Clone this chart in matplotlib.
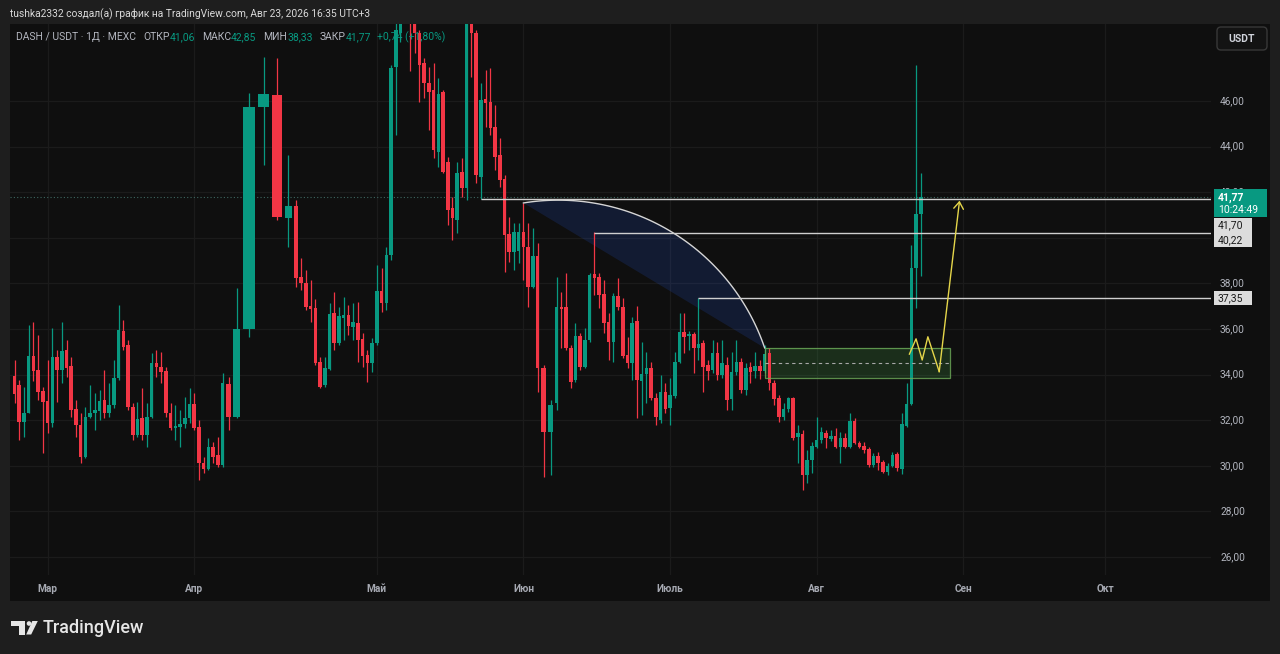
import numpy as np
import pandas as pd
import matplotlib
matplotlib.use("Agg")
import matplotlib.pyplot as plt
from matplotlib.patches import Rectangle, Polygon, FancyBboxPatch, Circle
from matplotlib.transforms import IdentityTransform

plt.rcParams['font.family'] = ['Roboto', 'DejaVu Sans']

# DASH/USDT daily candles, MEXC, first bar 2026-02-22
start_date = "2026-02-22"
opens = [
    33.94, 33.54, 31.92, 32.32, 34.82, 34.20, 33.28, 32.84, 31.88, 34.77,
    34.20, 35.08, 34.38, 32.49, 31.79, 30.39, 32.14, 32.32, 32.40, 32.89,
    32.32, 32.67, 33.85, 35.91, 35.30, 32.58, 31.35, 32.10, 31.35, 32.14,
    34.50, 34.33, 34.16, 32.32, 31.66, 31.70, 31.83, 32.10, 32.71, 31.70,
    30.12, 29.86, 30.82, 30.47, 30.03, 33.59, 32.14, 36.00, 45.74, 46.26,
    40.87, 41.40, 38.28, 38.00, 37.00, 36.92, 34.55, 33.54, 34.25, 36.70,
    35.39, 36.48, 36.61, 36.09, 36.26, 35.56, 34.86, 34.50, 35.39, 37.67,
    37.14, 39.25, 47.49, 49.00, 50.50, 51.50, 49.80, 48.98, 47.67, 46.79,
    46.48, 43.76, 46.39, 43.32, 41.31, 40.78, 42.89, 42.18, 49.42, 48.98,
    42.67, 46.09, 45.96, 44.86, 43.63, 42.58, 40.17, 39.38, 39.42, 40.25,
    39.60, 37.84, 39.20, 34.29, 31.48, 32.75, 36.96, 36.96, 35.17, 33.76,
    35.69, 34.33, 35.52, 38.41, 38.28, 37.54, 36.30, 35.43, 37.45, 36.96,
    34.86, 34.50, 36.35, 33.72, 34.03, 34.29, 32.97, 32.00, 33.24, 32.54,
    33.06, 34.55, 35.87, 35.69, 35.78, 35.17, 35.39, 34.42, 34.20, 34.95,
    33.98, 34.42, 32.93, 34.11, 34.55, 33.33, 34.33, 34.16, 34.38, 34.16,
    34.95, 33.63, 32.97, 32.14, 32.49, 32.97, 31.26, 31.39, 29.60, 30.25,
    30.82, 31.13, 31.44, 31.17, 31.30, 30.82, 31.22, 30.82, 31.96, 31.00,
    30.87, 30.74, 30.03, 30.43, 30.16, 29.73, 29.99, 30.52, 29.86, 31.75,
    32.71, 38.68, 41.06]
highs = [
    34.64, 33.76, 33.46, 36.18, 36.30, 35.74, 33.46, 34.64, 36.04, 35.08,
    36.30, 35.52, 34.77, 32.89, 32.32, 32.58, 33.54, 33.20, 33.33, 34.20,
    33.63, 34.64, 37.05, 36.40, 35.52, 32.75, 32.80, 33.41, 32.75, 34.95,
    35.08, 35.00, 34.33, 32.75, 32.67, 32.45, 33.02, 33.41, 33.20, 32.00,
    30.39, 31.22, 31.04, 31.26, 34.07, 33.90, 37.80, 46.35, 47.93, 47.89,
    43.63, 41.66, 39.10, 38.60, 38.15, 37.32, 34.77, 34.77, 37.14, 37.62,
    36.96, 37.40, 37.05, 37.14, 37.18, 35.82, 35.08, 35.60, 38.80, 38.68,
    39.60, 47.58, 50.00, 50.50, 52.00, 52.00, 50.50, 49.11, 47.89, 47.49,
    47.67, 47.00, 46.48, 43.54, 41.79, 43.32, 43.50, 50.50, 50.00, 49.10,
    46.79, 47.36, 47.45, 45.82, 44.38, 42.75, 40.91, 40.65, 40.65, 41.53,
    40.65, 40.43, 39.77, 34.42, 32.89, 38.28, 37.62, 38.46, 35.30, 36.26,
    35.82, 36.04, 38.46, 40.25, 38.46, 38.15, 36.70, 37.58, 38.24, 37.36,
    35.65, 36.53, 37.00, 35.43, 34.99, 34.55, 33.20, 33.98, 33.63, 33.85,
    34.99, 36.70, 36.70, 35.90, 35.87, 37.36, 35.52, 34.64, 35.52, 35.43,
    35.52, 34.77, 34.99, 35.52, 34.73, 34.51, 34.55, 34.99, 34.64, 35.30,
    35.17, 33.76, 33.11, 32.75, 33.02, 33.02, 31.79, 31.57, 30.69, 31.04,
    32.14, 31.70, 31.57, 31.57, 31.66, 31.48, 31.44, 32.32, 32.10, 31.10,
    31.04, 30.82, 30.56, 30.60, 30.25, 30.12, 30.60, 30.60, 32.32, 33.63,
    39.68, 47.58, 42.85]
lows = [
    32.75, 31.13, 31.26, 32.30, 33.70, 32.90, 30.56, 31.44, 31.70, 32.80,
    33.63, 33.90, 32.14, 31.26, 30.12, 30.34, 32.10, 31.57, 32.00, 32.10,
    32.14, 32.54, 33.76, 35.08, 32.45, 31.13, 31.26, 31.13, 30.82, 32.10,
    33.90, 33.63, 32.14, 31.57, 31.13, 30.82, 31.66, 31.88, 31.57, 29.38,
    29.68, 29.82, 30.12, 29.95, 29.95, 31.57, 32.10, 35.65, 43.19, 40.78,
    39.60, 37.84, 37.70, 36.83, 36.30, 34.42, 33.41, 33.46, 34.20, 35.08,
    35.30, 35.52, 35.74, 35.52, 34.55, 34.33, 33.68, 34.11, 35.30, 36.75,
    36.83, 39.03, 44.51, 48.60, 50.00, 47.30, 48.10, 45.96, 46.13, 44.73,
    43.50, 43.10, 42.84, 40.56, 39.90, 40.21, 41.79, 41.66, 47.05, 42.40,
    41.70, 44.86, 44.51, 42.97, 42.23, 38.50, 38.94, 38.59, 38.90, 38.15,
    36.96, 37.80, 33.24, 29.51, 29.60, 32.45, 35.17, 35.08, 33.41, 33.68,
    34.20, 34.29, 35.43, 37.49, 36.92, 35.82, 34.64, 34.55, 36.83, 34.73,
    34.29, 33.76, 32.10, 32.23, 32.75, 32.89, 31.79, 31.88, 32.32, 31.79,
    32.97, 34.50, 34.95, 35.08, 34.07, 34.64, 33.24, 33.76, 34.07, 33.76,
    33.85, 32.45, 32.45, 33.98, 33.20, 33.11, 33.63, 33.85, 33.80, 34.07,
    33.33, 32.67, 31.92, 32.00, 32.36, 31.13, 30.12, 28.94, 29.25, 29.68,
    30.78, 31.00, 30.78, 31.10, 30.78, 30.12, 30.78, 30.78, 30.95, 30.78,
    30.56, 29.95, 29.95, 29.82, 29.68, 29.60, 29.95, 29.77, 29.64, 31.70,
    32.67, 36.92, 38.33]
closes = [
    33.15, 31.92, 32.32, 34.82, 34.16, 33.24, 32.80, 31.88, 34.77, 34.20,
    35.04, 34.29, 32.45, 31.79, 30.39, 32.14, 32.32, 32.45, 32.84, 32.32,
    32.67, 33.85, 35.96, 35.21, 32.58, 31.35, 32.05, 31.35, 32.14, 34.50,
    34.33, 34.11, 32.32, 31.66, 31.75, 31.83, 32.10, 32.71, 31.66, 30.12,
    29.86, 30.82, 30.39, 30.03, 33.63, 32.14, 36.00, 45.74, 46.30, 40.91,
    41.40, 38.24, 38.00, 36.96, 36.88, 34.50, 33.46, 34.29, 36.66, 35.39,
    36.57, 36.61, 36.13, 36.30, 35.52, 34.82, 34.50, 35.39, 37.67, 37.14,
    39.25, 47.45, 49.11, 49.60, 51.50, 50.00, 49.00, 47.58, 46.79, 46.39,
    43.85, 46.31, 42.89, 41.22, 40.87, 42.84, 42.18, 49.80, 48.98, 42.75,
    46.04, 45.91, 44.82, 43.54, 42.54, 40.12, 39.38, 40.25, 40.25, 39.60,
    37.84, 39.20, 34.29, 31.48, 32.67, 36.96, 36.90, 35.17, 33.68, 35.69,
    34.33, 35.52, 38.37, 38.24, 37.49, 36.26, 35.43, 37.45, 36.96, 34.82,
    34.50, 36.26, 33.76, 34.03, 34.29, 32.97, 32.14, 33.24, 32.49, 33.11,
    34.55, 35.87, 35.65, 35.78, 35.17, 35.34, 34.33, 34.16, 34.95, 33.98,
    34.50, 32.89, 34.11, 34.55, 33.33, 34.29, 34.11, 34.38, 34.16, 34.90,
    33.63, 32.93, 32.14, 32.49, 32.97, 31.22, 31.44, 29.60, 30.25, 30.87,
    31.13, 31.48, 31.22, 31.30, 30.82, 31.22, 30.82, 31.96, 31.00, 30.82,
    30.69, 30.03, 30.43, 30.12, 29.73, 29.99, 30.47, 29.90, 31.83, 32.71,
    38.68, 41.03, 41.77]

# a few bars are drawn stretched on the screenshot (bar index: width in slots)
wide_bars = {45: 1.5, 46: 2.0, 47: 3.2, 48: 3.0, 49: 2.7, 50: 2.0, 51: 1.2,
             103: 1.5, 104: 1.5}

ru_months = {3: "Мар", 4: "Апр", 5: "Май", 6: "Июн", 7: "Июль", 8: "Авг",
             9: "Сен", 10: "Окт"}
future_months = ["2026-09-01", "2026-10-01"]
price_ticks = [26, 28, 30, 32, 34, 36, 38, 40, 42, 44, 46]

# drawings
ray_bars = [90, 113, 135]
ray_prices = [41.70, 40.22, 37.35]
arc_bars = [99, 129.4, 149]
arc_prices = [41.53, 40.25, 35.17]
zone_bar = 149
zone_ahead = 6.2
zone_top, zone_bottom = 35.18, 33.84
path_ahead = [-2.4, -1.0, 0.3, 1.5, 3.9, 8.2]
path_prices = [34.90, 35.57, 34.64, 35.66, 34.13, 41.63]
countdown = "10:24:49"
title = "tushka2332 создал(а) график на TradingView.com, Авг 23, 2026 16:35 UTC+3"

UP, DOWN = "#089981", "#f23645"
BG, FRAME, GRID = "#0f0f0f", "#1e1e1e", "#1b1b1b"
AXTXT = "#b2b5be"
YEL = "#e5d64a"

W, H = 1280, 654
PX0, DX = 14.5, 4.73   # pixel of first bar, pixels per bar slot

o = np.array(opens); h = np.array(highs); l = np.array(lows); c = np.array(closes)
h = np.maximum(h, np.maximum(o, c)); l = np.minimum(l, np.minimum(o, c))
n = len(o)
span = np.ones(n)
for k, v in wide_bars.items():
    span[k] = v
edges = np.concatenate([[0], np.cumsum(span)])
xs = edges[:-1] + span / 2 - 0.5
dates = pd.date_range(start_date, periods=n, freq="D")

fig = plt.figure(figsize=(W / 100, H / 100), dpi=100, facecolor=FRAME)
ident = IdentityTransform()
fig.add_artist(Rectangle((10, H - 601), 1260, 577, transform=ident,
                         facecolor=BG, edgecolor="none", zorder=-1))

ax = fig.add_axes([10 / W, 1 - 575 / H, 1201 / W, 551 / H])
ax.set_facecolor(BG)
for s in ax.spines.values():
    s.set_visible(False)
ax.set_xticks([]); ax.set_yticks([])
ax.set_xlim((10 - PX0) / DX, (1211 - PX0) / DX)
ax.set_ylim(25.21, 49.38)

# month ticks
ticks = []
for i, d in enumerate(dates):
    if d.day == 1:
        ticks.append((xs[i], ru_months[d.month]))
for fm in future_months:
    d = pd.Timestamp(fm)
    ticks.append((xs[-1] + (d - dates[-1]).days, ru_months[d.month]))

for p in price_ticks:
    ax.axhline(p, color=GRID, lw=0.9, zorder=0)
for x, lab in ticks:
    ax.axvline(x, color=GRID, lw=0.9, zorder=0)
    ax.text(x, -0.026, lab, transform=ax.get_xaxis_transform(), ha="center",
            va="center", fontsize=7.3, fontweight="bold", color="#a6a9b2")
for p in price_ticks:
    ax.text(1.0075, p, f"{p:.2f}".replace(".", ","), transform=ax.get_yaxis_transform(),
            ha="left", va="center", fontsize=7.3, color=AXTXT)

# arc shape
def circle_through(p1, p2, p3):
    (x1, y1), (x2, y2), (x3, y3) = p1, p2, p3
    A = 2 * np.array([[x2 - x1, y2 - y1], [x3 - x1, y3 - y1]])
    b = np.array([x2**2 - x1**2 + y2**2 - y1**2, x3**2 - x1**2 + y3**2 - y1**2])
    cc = np.linalg.solve(A, b)
    return cc, np.hypot(x1 - cc[0], y1 - cc[1])

arc_x = np.interp(arc_bars, np.arange(n), xs)
pd_ = ax.transData.transform(np.column_stack([arc_x, arc_prices]))
cen, rad = circle_through(*pd_)
ang = np.arctan2(pd_[:, 1] - cen[1], pd_[:, 0] - cen[0])
sweep = (ang[2] - ang[0]) % (2 * np.pi)
mid = (ang[1] - ang[0]) % (2 * np.pi)
if mid > sweep:
    sweep -= 2 * np.pi
tt = ang[0] + np.linspace(0, sweep, 120)
arc_disp = np.column_stack([cen[0] + rad * np.cos(tt), cen[1] + rad * np.sin(tt)])
arc_data = ax.transData.inverted().transform(arc_disp)
ax.add_patch(Polygon(arc_data, closed=True, facecolor="#2962ff", alpha=0.15,
                     edgecolor="none", zorder=1))
ax.plot(arc_data[:, 0], arc_data[:, 1], color="#d6d6d6", lw=1, zorder=3)

# zone box
zx0 = xs[zone_bar]
zx1 = xs[-1] + zone_ahead
ax.add_patch(Rectangle((zx0, zone_bottom), zx1 - zx0, zone_top - zone_bottom,
                       facecolor="#4caf50", alpha=0.2, edgecolor="none", zorder=1))
ax.add_patch(Rectangle((zx0, zone_bottom), zx1 - zx0, zone_top - zone_bottom,
                       facecolor="none", edgecolor="#6fae5a", lw=0.9, alpha=0.8, zorder=3))
ax.plot([zx0, zx1], [(zone_top + zone_bottom) / 2] * 2, color="#a8a8a8",
        lw=0.8, ls=(0, (3, 3)), zorder=3)

# candles
col = np.where(c >= o, UP, DOWN)
ax.vlines(xs, l, h, colors=col, lw=0.9, zorder=2)
ax.bar(xs, np.maximum(np.abs(c - o), 0.05), width=0.75 * span,
       bottom=np.minimum(o, c), color=col, linewidth=0, zorder=2.1)

# current price and horizontal rays
ax.axhline(c[-1], color="#3d6660", lw=0.8, ls=(0, (1, 2)), zorder=1.5)
xr = ax.get_xlim()[1]
for b, p in zip(ray_bars, ray_prices):
    ax.plot([xs[b], xr], [p, p], color="#cfcfcf", lw=1, zorder=3, solid_capstyle="butt")

# yellow forecast path
px_ = xs[-1] + np.array(path_ahead)
ax.plot(px_[:-1], path_prices[:-1], color=YEL, lw=1, zorder=4)
ax.annotate("", xy=(px_[-1], path_prices[-1]), xytext=(px_[-2], path_prices[-2]),
            arrowprops=dict(arrowstyle="->,head_length=0.5,head_width=0.35",
                            color=YEL, lw=1, shrinkA=0, shrinkB=0), zorder=4)

# price labels on axis
def price_px(p):
    return H - ax.transData.transform((0, p))[1]

yc = price_px(c[-1])
fig.add_artist(Rectangle((1214, H - (yc + 20)), 53, 28, transform=ident,
                         facecolor=UP, edgecolor="none", zorder=2))
fig.text(1218, H - yc, f"{c[-1]:.2f}".replace(".", ","), transform=ident,
         fontsize=7.5, fontweight="bold", color="white", va="center")
fig.text(1218, H - (yc + 13), countdown, transform=ident, fontsize=7.5,
         color="white", va="center")
top = yc + 21
fig.add_artist(Rectangle((1214, H - (top + 29)), 38, 29, transform=ident,
                         facecolor="#dcdcdc", edgecolor="none", zorder=2))
for k, p in enumerate(ray_prices[:2]):
    fig.text(1218, H - (top + 7 + 14.5 * k), f"{p:.2f}".replace(".", ","),
             transform=ident, fontsize=7.5, color="#1a1a1a", va="center")
y3 = price_px(ray_prices[2])
fig.add_artist(Rectangle((1214, H - (y3 + 7)), 38, 14, transform=ident,
                         facecolor="#dcdcdc", edgecolor="none", zorder=2))
fig.text(1218, H - y3, f"{ray_prices[2]:.2f}".replace(".", ","), transform=ident,
         fontsize=7.5, color="#1a1a1a", va="center")

# USDT button
fig.add_artist(FancyBboxPatch((1217, H - 50), 50, 23, boxstyle="round,pad=0,rounding_size=4",
                              transform=ident, facecolor="#131313", edgecolor="#383838",
                              lw=1, zorder=2))
fig.text(1242, H - 38.5, "USDT", transform=ident, ha="center", va="center",
         fontsize=7.5, fontweight="bold", color="#d1d4dc")

# title and legend line
fig.text(10, H - 14, title, transform=ident, fontsize=7.4, color="#d9d9d9", va="center")
fmt = lambda v: f"{v:.2f}".replace(".", ",")
chg = c[-1] - c[-2]
# (text, colour, gap in px after the text)
header = [("DASH / USDT · 1Д · MEXC", AXTXT, 7), ("ОТКР", AXTXT, 0),
          (fmt(o[-1]), UP, 7), ("МАКС", AXTXT, 0), (fmt(h[-1]), UP, 7),
          ("МИН", AXTXT, 0), (fmt(l[-1]), UP, 7), ("ЗАКР", AXTXT, 0),
          (fmt(c[-1]), UP, 6),
          (f"+{fmt(chg)} (+{fmt(chg / c[-2] * 100)}%)", UP, 0)]
renderer = fig.canvas.get_renderer()
x = 16
for s, colr, gap in header:
    t = fig.text(x, H - 37, s, transform=ident, fontsize=7.5, color=colr, va="center")
    x = t.get_window_extent(renderer).x1 + gap

# TradingView logo
logo_col = "#e6e6e6"
fig.add_artist(Rectangle((10.5, H - 626), 14.8, 5, transform=ident, facecolor=logo_col, zorder=2))
fig.add_artist(Rectangle((18.5, H - 634.5), 6.8, 13.5, transform=ident, facecolor=logo_col, zorder=2))
fig.add_artist(Circle((29, H - 623.5), 2.3, transform=ident, facecolor=logo_col, zorder=2))
fig.add_artist(Polygon([(32.3, H - 621), (37.8, H - 621), (31.2, H - 634.5), (26.2, H - 634.5)],
                       transform=ident, facecolor=logo_col, zorder=2))
fig.text(43, H - 628, "TradingView", transform=ident, fontsize=13, fontweight="medium",
         color=logo_col, va="center")

fig.savefig("out.png", dpi=100, facecolor=FRAME)
